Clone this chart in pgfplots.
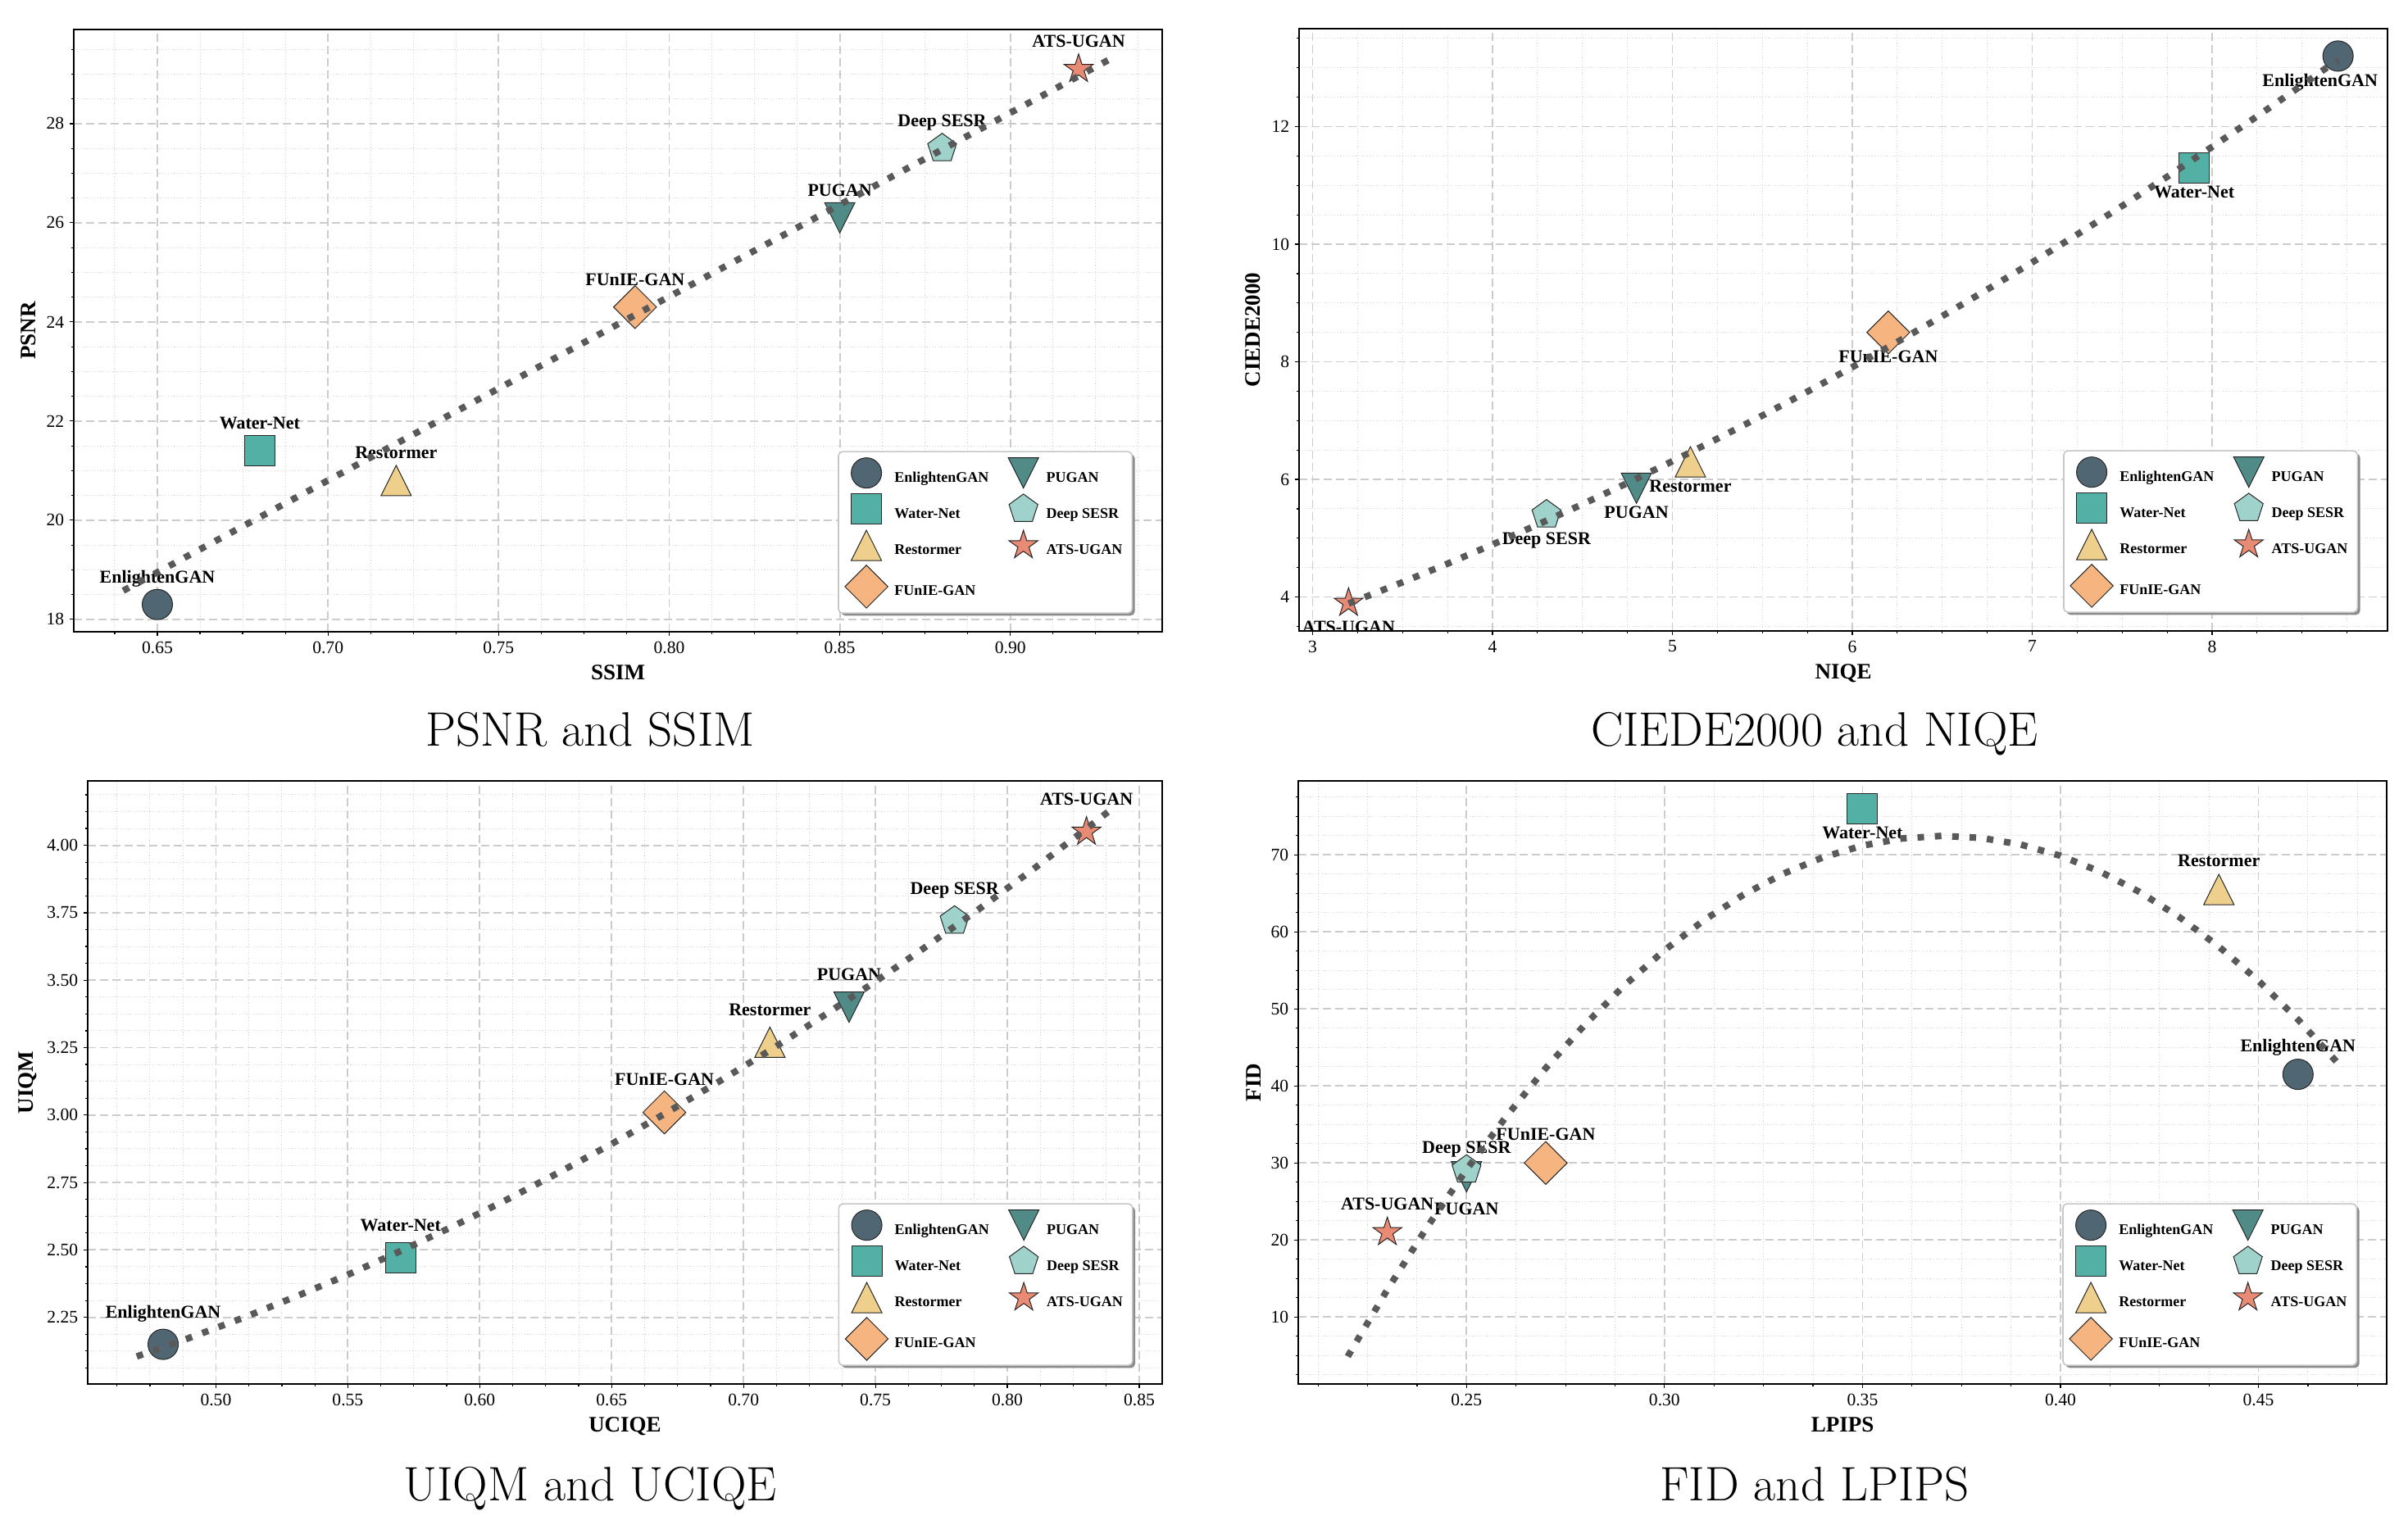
\documentclass[border=0pt]{standalone}
\usepackage{fontspec}
\usepackage{pgfplots}
\pgfplotsset{compat=1.18}
\usetikzlibrary{shadows}
\newfontfamily\tnr{Liberation Serif}

\definecolor{cEnl}{HTML}{506773}
\definecolor{cWat}{HTML}{52B0A4}
\definecolor{cRes}{HTML}{EECF8B}
\definecolor{cFun}{HTML}{F5B480}
\definecolor{cPug}{HTML}{518B88}
\definecolor{cDee}{HTML}{A0D2CC}
\definecolor{cAts}{HTML}{E98A74}
\definecolor{cFit}{HTML}{595959}

\makeatletter
\tikzset{nopre/.code={\let\tikz@preactions\pgfutil@empty}}
\makeatother

\pgfdeclareplotmark{mcirc}{\pgfpathcircle{\pgfpointorigin}{\pgfplotmarksize}\pgfusepathqfillstroke}
\pgfdeclareplotmark{msq}{\pgfpathrectangle{\pgfqpoint{-\pgfplotmarksize}{-\pgfplotmarksize}}{\pgfqpoint{2\pgfplotmarksize}{2\pgfplotmarksize}}\pgfusepathqfillstroke}
\pgfdeclareplotmark{mtri}{\pgfpathmoveto{\pgfqpoint{0pt}{\pgfplotmarksize}}\pgfpathlineto{\pgfqpoint{-\pgfplotmarksize}{-\pgfplotmarksize}}\pgfpathlineto{\pgfqpoint{\pgfplotmarksize}{-\pgfplotmarksize}}\pgfpathclose\pgfusepathqfillstroke}
\pgfdeclareplotmark{mtrid}{\pgfpathmoveto{\pgfqpoint{0pt}{-\pgfplotmarksize}}\pgfpathlineto{\pgfqpoint{-\pgfplotmarksize}{\pgfplotmarksize}}\pgfpathlineto{\pgfqpoint{\pgfplotmarksize}{\pgfplotmarksize}}\pgfpathclose\pgfusepathqfillstroke}
\pgfdeclareplotmark{mdia}{\pgfpathmoveto{\pgfqpoint{0pt}{1.4142\pgfplotmarksize}}\pgfpathlineto{\pgfqpoint{1.4142\pgfplotmarksize}{0pt}}\pgfpathlineto{\pgfqpoint{0pt}{-1.4142\pgfplotmarksize}}\pgfpathlineto{\pgfqpoint{-1.4142\pgfplotmarksize}{0pt}}\pgfpathclose\pgfusepathqfillstroke}
\pgfdeclareplotmark{mpent}{\pgfpathmoveto{\pgfpointpolar{90}{\pgfplotmarksize}}\pgfpathlineto{\pgfpointpolar{162}{\pgfplotmarksize}}\pgfpathlineto{\pgfpointpolar{234}{\pgfplotmarksize}}\pgfpathlineto{\pgfpointpolar{306}{\pgfplotmarksize}}\pgfpathlineto{\pgfpointpolar{18}{\pgfplotmarksize}}\pgfpathclose\pgfusepathqfillstroke}
\pgfdeclareplotmark{mstar}{\pgfpathmoveto{\pgfpointpolar{90}{\pgfplotmarksize}}%
\pgfpathlineto{\pgfpointpolar{126}{0.381966\pgfplotmarksize}}\pgfpathlineto{\pgfpointpolar{162}{\pgfplotmarksize}}%
\pgfpathlineto{\pgfpointpolar{198}{0.381966\pgfplotmarksize}}\pgfpathlineto{\pgfpointpolar{234}{\pgfplotmarksize}}%
\pgfpathlineto{\pgfpointpolar{270}{0.381966\pgfplotmarksize}}\pgfpathlineto{\pgfpointpolar{306}{\pgfplotmarksize}}%
\pgfpathlineto{\pgfpointpolar{342}{0.381966\pgfplotmarksize}}\pgfpathlineto{\pgfpointpolar{18}{\pgfplotmarksize}}%
\pgfpathlineto{\pgfpointpolar{54}{0.381966\pgfplotmarksize}}\pgfpathclose\pgfusepathqfillstroke}

\tikzset{
  mk/.style={mark size=9.25pt, mark options={draw=black!85, line width=0.5pt, solid, sharp corners, nopre, fill=#1}},
  sEnl/.style={mark=mcirc, mk=cEnl},
  sWat/.style={mark=msq, mk=cWat},
  sRes/.style={mark=mtri, mk=cRes},
  sFun/.style={mark=mdia, mk=cFun},
  sPug/.style={mark=mtrid, mk=cPug},
  sDee/.style={mark=mpent, mk=cDee},
  sAts/.style={mark=mstar, mk=cAts},
  lbl/.style={font=\tnr\bfseries\fontsize{11}{12}\selectfont, inner sep=0pt, anchor=base},
  fitl/.style={draw=cFit, line width=4pt, dash pattern=on 4pt off 6.6pt, line cap=butt},
}

\pgfplotsset{
  myax/.style={
    scale only axis, anchor=south west,
    set layers,
    axis line style={black, line width=0.9pt},
    tick align=outside, xtick pos=bottom, ytick pos=left,
    major tick length=2.4pt, minor tick length=1.5pt,
    tick style={black, line width=0.6pt},
    grid=both,
    major grid style={dash pattern=on 5pt off 2.5pt, line width=0.9pt, color=black!20},
    minor grid style={dash pattern=on 0.6pt off 1.2pt, line width=0.5pt, color=black!16},
    tick label style={font=\tnr\fontsize{10.8}{12}\selectfont},
    /pgf/number format/assume math mode=true,
    scaled ticks=false,
    label style={font=\tnr\bfseries\fontsize{13.5}{15}\selectfont},
    xlabel style={at={(axis description cs:0.5,0)}, anchor=base, yshift=-29.5pt},
    ylabel style={anchor=center},
    legend columns=2, legend cell align=left,
    legend style={at={(0.973,0.030)}, anchor=south east,
      font=\tnr\bfseries\fontsize{9}{10}\selectfont,
      draw=black!22, line width=0.8pt, rounded corners=2.5pt, fill=white,
      inner xsep=4pt, inner ysep=3pt, row sep=2.1pt,
      /tikz/every even column/.append style={column sep=9.2pt},
      /tikz/every odd column/.append style={column sep=2pt},
      drop shadow={shadow xshift=1.6pt, shadow yshift=-1.6pt, fill=black!45, opacity=1}},
    legend image code/.code={%
      \pgfpathrectangle{\pgfqpoint{-10pt}{-6.8pt}}{\pgfqpoint{20pt}{20pt}}\pgfusepath{discard}%
      \draw[nopre,##1] plot coordinates {(0pt,3.2pt)};},
  },
  twodec/.style={/pgf/number format/fixed,/pgf/number format/fixed zerofill,/pgf/number format/precision=2},
}

\newcommand\mylegend{%
  \addlegendimage{sEnl}\addlegendentry{EnlightenGAN}
  \addlegendimage{sPug}\addlegendentry{PUGAN}
  \addlegendimage{sWat}\addlegendentry{Water-Net}
  \addlegendimage{sDee}\addlegendentry{Deep SESR}
  \addlegendimage{sRes}\addlegendentry{Restormer}
  \addlegendimage{sAts}\addlegendentry{ATS-UGAN}
  \addlegendimage{sFun}\addlegendentry{FUnIE-GAN}}

\begin{document}
\begin{tikzpicture}
\path (0,0) rectangle (1469pt,927.5pt);

% ---------------- PSNR vs SSIM ----------------
\begin{axis}[myax, at={(45pt,542pt)}, width=664pt, height=367.5pt,
  xmin=0.6255, xmax=0.9445, ymin=17.75, ymax=29.9,
  xtick={0.65,0.70,0.75,0.80,0.85,0.90},
  minor xtick={0.6375,0.6625,0.675,0.6875,0.7125,0.725,0.7375,0.7625,0.775,0.7875,0.8125,0.825,0.8375,0.8625,0.875,0.8875,0.9125,0.925,0.9375},
  ytick={18,20,22,24,26,28},
  minor ytick={18.5,19,19.5,20.5,21,21.5,22.5,23,23.5,24.5,25,25.5,26.5,27,27.5,28.5,29,29.5},
  xticklabel style={twodec},
  xlabel={SSIM}, ylabel={PSNR},
  ylabel style={at={(axis description cs:-0.0414,0.5)}}]
\addplot[sEnl, only marks, on layer=axis background, forget plot] coordinates {(0.65,18.3)};
\addplot[sWat, only marks, on layer=axis background, forget plot] coordinates {(0.68,21.4)};
\addplot[sRes, only marks, on layer=axis background, forget plot] coordinates {(0.72,20.8)};
\addplot[sFun, only marks, on layer=axis background, forget plot] coordinates {(0.79,24.3)};
\addplot[sPug, only marks, on layer=axis background, forget plot] coordinates {(0.85,26.1)};
\addplot[sDee, only marks, on layer=axis background, forget plot] coordinates {(0.88,27.5)};
\addplot[sAts, only marks, on layer=axis background, forget plot] coordinates {(0.92,29.1)};
\node[lbl, yshift=13.3pt] at (axis cs:0.65,18.3) {EnlightenGAN};
\node[lbl, yshift=13.3pt] at (axis cs:0.68,21.4) {Water-Net};
\node[lbl, yshift=13.3pt] at (axis cs:0.72,20.8) {Restormer};
\node[lbl, yshift=13.3pt] at (axis cs:0.79,24.3) {FUnIE-GAN};
\node[lbl, yshift=13.3pt] at (axis cs:0.85,26.1) {PUGAN};
\node[lbl, yshift=13.3pt] at (axis cs:0.88,27.5) {Deep SESR};
\node[lbl, yshift=13.3pt] at (axis cs:0.92,29.1) {ATS-UGAN};
\addplot[fitl, no marks, on layer=axis foreground, forget plot] coordinates {(0.64,18.578) (0.93,29.331)};
\mylegend
\end{axis}

% ---------------- CIEDE2000 vs NIQE ----------------
\begin{axis}[myax, at={(792.5pt,542.5pt)}, width=664pt, height=367.5pt,
  xmin=2.925, xmax=8.975, ymin=3.423, ymax=13.666,
  xtick={3,4,5,6,7,8},
  minor xtick={3.25,3.5,3.75,4.25,4.5,4.75,5.25,5.5,5.75,6.25,6.5,6.75,7.25,7.5,7.75,8.25,8.5,8.75},
  ytick={4,6,8,10,12},
  minor ytick={3.5,4.5,5,5.5,6.5,7,7.5,8.5,9,9.5,10.5,11,11.5,12.5,13,13.5},
  xlabel={NIQE}, ylabel={CIEDE2000},
  ylabel style={at={(axis description cs:-0.0422,0.5)}}]
\addplot[sEnl, only marks, on layer=axis background, forget plot] coordinates {(8.7,13.2)};
\addplot[sWat, only marks, on layer=axis background, forget plot] coordinates {(7.9,11.3)};
\addplot[sRes, only marks, on layer=axis background, forget plot] coordinates {(5.1,6.3)};
\addplot[sFun, only marks, on layer=axis background, forget plot] coordinates {(6.2,8.5)};
\addplot[sPug, only marks, on layer=axis background, forget plot] coordinates {(4.8,5.85)};
\addplot[sDee, only marks, on layer=axis background, forget plot] coordinates {(4.3,5.4)};
\addplot[sAts, only marks, on layer=axis background, forget plot] coordinates {(3.2,3.9)};
\node[lbl, yshift=-18.3pt, xshift=-11pt] at (axis cs:8.7,13.2) {EnlightenGAN};
\node[lbl, yshift=-18.3pt] at (axis cs:7.9,11.3) {Water-Net};
\node[lbl, yshift=-18.3pt] at (axis cs:5.1,6.3) {Restormer};
\node[lbl, yshift=-18.3pt] at (axis cs:6.2,8.5) {FUnIE-GAN};
\node[lbl, yshift=-18.3pt] at (axis cs:4.8,5.85) {PUGAN};
\node[lbl, yshift=-18.3pt] at (axis cs:4.3,5.4) {Deep SESR};
\node[lbl, yshift=-18.3pt] at (axis cs:3.2,3.9) {ATS-UGAN};
\addplot[fitl, no marks, on layer=axis foreground, forget plot] coordinates {
(3.2,3.889) (3.5,4.251) (3.75,4.566) (4.0,4.892) (4.25,5.229) (4.5,5.578) (4.75,5.938) (5.0,6.309)
(5.25,6.692) (5.5,7.086) (5.75,7.492) (6.0,7.909) (6.25,8.337) (6.5,8.777) (6.75,9.229) (7.0,9.691)
(7.25,10.165) (7.5,10.651) (7.75,11.147) (8.0,11.656) (8.25,12.175) (8.5,12.706) (8.7,13.139)};
\mylegend
\end{axis}

% ---------------- UIQM vs UCIQE ----------------
\begin{axis}[myax, at={(53.5pt,83pt)}, width=655.5pt, height=368pt,
  xmin=0.4514, xmax=0.8587, ymin=2.003, ymax=4.239,
  xtick={0.50,0.55,0.60,0.65,0.70,0.75,0.80,0.85},
  minor xtick={0.4625,0.475,0.4875,0.5125,0.525,0.5375,0.5625,0.575,0.5875,0.6125,0.625,0.6375,0.6625,0.675,0.6875,0.7125,0.725,0.7375,0.7625,0.775,0.7875,0.8125,0.825,0.8375},
  ytick={2.25,2.5,2.75,3,3.25,3.5,3.75,4},
  minor ytick={2.0625,2.125,2.1875,2.3125,2.375,2.4375,2.5625,2.625,2.6875,2.8125,2.875,2.9375,3.0625,3.125,3.1875,3.3125,3.375,3.4375,3.5625,3.625,3.6875,3.8125,3.875,3.9375,4.0625,4.125,4.1875},
  xticklabel style={twodec}, yticklabel style={twodec},
  xlabel={UCIQE}, ylabel={UIQM},
  ylabel style={at={(axis description cs:-0.0557,0.5)}}]
\addplot[sEnl, only marks, on layer=axis background, forget plot] coordinates {(0.48,2.15)};
\addplot[sWat, only marks, on layer=axis background, forget plot] coordinates {(0.57,2.47)};
\addplot[sRes, only marks, on layer=axis background, forget plot] coordinates {(0.71,3.27)};
\addplot[sFun, only marks, on layer=axis background, forget plot] coordinates {(0.67,3.01)};
\addplot[sPug, only marks, on layer=axis background, forget plot] coordinates {(0.74,3.40)};
\addplot[sDee, only marks, on layer=axis background, forget plot] coordinates {(0.78,3.72)};
\addplot[sAts, only marks, on layer=axis background, forget plot] coordinates {(0.83,4.05)};
\node[lbl, yshift=16.3pt] at (axis cs:0.48,2.15) {EnlightenGAN};
\node[lbl, yshift=16.3pt] at (axis cs:0.57,2.47) {Water-Net};
\node[lbl, yshift=16.3pt] at (axis cs:0.71,3.27) {Restormer};
\node[lbl, yshift=16.3pt] at (axis cs:0.67,3.01) {FUnIE-GAN};
\node[lbl, yshift=16.3pt] at (axis cs:0.74,3.40) {PUGAN};
\node[lbl, yshift=16.3pt] at (axis cs:0.78,3.72) {Deep SESR};
\node[lbl, yshift=16.3pt] at (axis cs:0.83,4.05) {ATS-UGAN};
\addplot[fitl, no marks, on layer=axis foreground, forget plot] coordinates {
(0.47,2.105) (0.49,2.174) (0.51,2.247) (0.53,2.326) (0.55,2.408) (0.57,2.496) (0.59,2.588)
(0.61,2.685) (0.63,2.787) (0.65,2.893) (0.67,3.004) (0.69,3.120) (0.71,3.240) (0.73,3.366)
(0.75,3.495) (0.77,3.630) (0.79,3.769) (0.81,3.913) (0.83,4.062) (0.84,4.138)};
\mylegend
\end{axis}

% ---------------- FID vs LPIPS ----------------
\begin{axis}[myax, at={(792pt,83pt)}, width=664pt, height=368pt,
  xmin=0.2075, xmax=0.4824, ymin=1.3, ymax=79.6,
  xtick={0.25,0.30,0.35,0.40,0.45},
  minor xtick={0.2125,0.225,0.2375,0.2625,0.275,0.2875,0.3125,0.325,0.3375,0.3625,0.375,0.3875,0.4125,0.425,0.4375,0.4625,0.475},
  ytick={10,20,30,40,50,60,70},
  minor ytick={2.5,5,7.5,12.5,15,17.5,22.5,25,27.5,32.5,35,37.5,42.5,45,47.5,52.5,55,57.5,62.5,65,67.5,72.5,75,77.5},
  xticklabel style={twodec},
  xlabel={LPIPS}, ylabel={FID},
  ylabel style={at={(axis description cs:-0.0407,0.5)}}]
\addplot[sEnl, only marks, on layer=axis background, forget plot] coordinates {(0.46,41.5)};
\addplot[sWat, only marks, on layer=axis background, forget plot] coordinates {(0.35,76)};
\addplot[sRes, only marks, on layer=axis background, forget plot] coordinates {(0.44,65.5)};
\addplot[sFun, only marks, on layer=axis background, forget plot] coordinates {(0.27,30)};
\addplot[sPug, only marks, on layer=axis background, forget plot] coordinates {(0.25,28.2)};
\addplot[sDee, only marks, on layer=axis background, forget plot] coordinates {(0.25,29.1)};
\addplot[sAts, only marks, on layer=axis background, forget plot] coordinates {(0.23,21)};
\node[lbl, yshift=13.8pt] at (axis cs:0.46,41.5) {EnlightenGAN};
\node[lbl, yshift=-18.5pt] at (axis cs:0.35,76) {Water-Net};
\node[lbl, yshift=13.8pt] at (axis cs:0.44,65.5) {Restormer};
\node[lbl, yshift=13.8pt] at (axis cs:0.27,30) {FUnIE-GAN};
\node[lbl, yshift=-23pt] at (axis cs:0.25,28.2) {PUGAN};
\node[lbl, yshift=10pt] at (axis cs:0.25,29.1) {Deep SESR};
\node[lbl, yshift=13.8pt] at (axis cs:0.23,21) {ATS-UGAN};
\addplot[fitl, no marks, on layer=axis foreground, forget plot] coordinates {
(0.22,4.874) (0.23,13.553) (0.24,21.636) (0.25,29.123) (0.26,36.013) (0.27,42.307) (0.28,48.005)
(0.29,53.106) (0.30,57.611) (0.31,61.521) (0.32,64.834) (0.33,67.551) (0.34,69.672) (0.35,71.196)
(0.36,72.124) (0.37,72.457) (0.38,72.192) (0.39,71.331) (0.40,69.875) (0.41,67.822) (0.42,65.173)
(0.43,61.927) (0.44,58.087) (0.45,53.649) (0.46,48.614) (0.47,42.985)};
\mylegend
\end{axis}

\node[anchor=base, inner sep=0pt, font=\fontsize{29.5}{32}\selectfont] at (360pt,472pt) {PSNR and SSIM};
\node[anchor=base, inner sep=0pt, font=\fontsize{29.5}{32}\selectfont] at (1107pt,472pt) {CIEDE2000 and NIQE};
\node[anchor=base, inner sep=0pt, font=\fontsize{29.5}{32}\selectfont] at (360pt,11.5pt) {UIQM and UCIQE};
\node[anchor=base, inner sep=0pt, font=\fontsize{29.5}{32}\selectfont] at (1107pt,11.5pt) {FID and LPIPS};
\pgfresetboundingbox
\useasboundingbox (0,0) rectangle (1469pt,927.5pt);
\end{tikzpicture}
\end{document}
